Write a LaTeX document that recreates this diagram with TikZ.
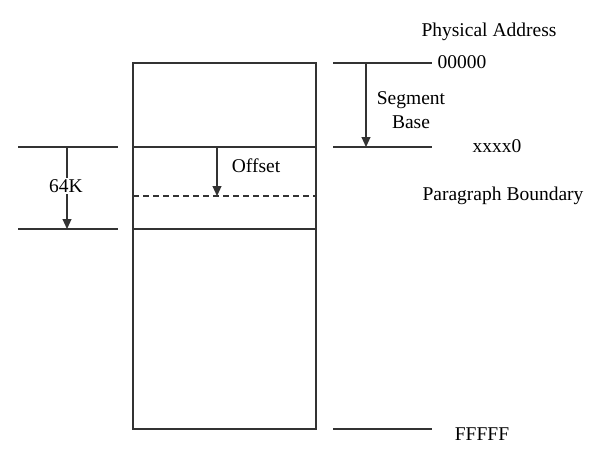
\documentclass[tikz,border=0pt]{standalone}
\usepackage{fontspec}
\setmainfont{Liberation Serif}
\usetikzlibrary{arrows.meta}
\begin{document}
\begin{tikzpicture}[x=1pt,y=-1pt,
  ln/.style={line width=1.1pt,black!80},
  arr/.style={line width=1.1pt,black!80,-{Triangle[length=10pt,width=9pt]}},
  lbl/.style={font=\fontsize{19.5}{22}\selectfont,inner sep=1pt},
  lblw/.style={lbl,fill=white}]
\useasboundingbox (0,0) rectangle (595,450);
% memory block
\draw[ln] (133,63) rectangle (316,429);
\coordinate (sbL) at (133,147); \coordinate (sbR) at (316,147);
\coordinate (ebL) at (133,229); \coordinate (ebR) at (316,229);
\coordinate (dL) at (133,196); \coordinate (dR) at (316,196);
\draw[ln] (sbL) -- (sbR);
\draw[ln] (ebL) -- (ebR);
\draw[ln,dash pattern=on 6pt off 4pt] (dL) -- (dR);
% offset arrow
\coordinate (oT) at (217,147); \coordinate (oB) at (217,196);
\draw[arr] (oT) -- (oB);
\node[lbl] (off) at (256,166) {Offset};
% left 64K
\coordinate (l1a) at (18,147); \coordinate (l1b) at (118,147);
\coordinate (l2a) at (18,229); \coordinate (l2b) at (118,229);
\draw[ln] (l1a) -- (l1b);
\draw[ln] (l2a) -- (l2b);
\coordinate (kT) at (67,147); \coordinate (kB) at (67,229);
\draw[arr] (kT) -- (kB);
\node[lblw] (k) at (66,186) {64K};
% right segment base
\coordinate (r1a) at (333,63); \coordinate (r1b) at (432,63);
\coordinate (r2a) at (333,147); \coordinate (r2b) at (432,147);
\coordinate (r3a) at (333,429); \coordinate (r3b) at (432,429);
\draw[ln] (r1a) -- (r1b);
\draw[ln] (r2a) -- (r2b);
\draw[ln] (r3a) -- (r3b);
\coordinate (sT) at (366,63); \coordinate (sB) at (366,147);
\draw[arr] (sT) -- (sB);
\node[lbl,align=center] (sb) at (411,110) {Segment\\[2pt]Base};
% labels
\node[lbl] (pa) at (489,32) {Physical Address};
\node[lbl] (z) at (462,62) {00000};
\node[lbl] (x) at (497,146) {xxxx0};
\node[lbl] (pb) at (503,196) {Paragraph Boundary};
\node[lbl] (f) at (482,434) {FFFFF};
\end{tikzpicture}
\end{document}
